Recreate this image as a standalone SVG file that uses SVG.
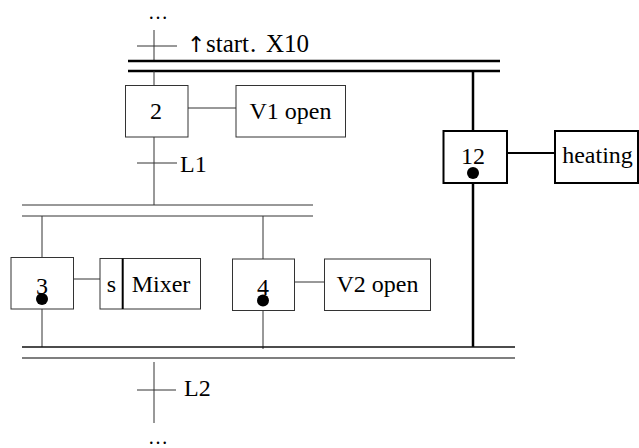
<svg xmlns="http://www.w3.org/2000/svg" width="639" height="448" viewBox="0 0 639 448">
<style>
text{font-family:"Liberation Serif","DejaVu Serif","Times New Roman",serif;font-size:24px;fill:#000}
.c{text-anchor:middle}
.thin{stroke:#333;stroke-width:1;fill:none}
.box{stroke:#333;stroke-width:1;fill:#fff}
.thick{stroke:#000;stroke-width:2.5;fill:none}
.tbox{stroke:#000;stroke-width:2;fill:#fff}
.arw{font-family:"DejaVu Sans","Liberation Sans",sans-serif;font-size:22px;fill:#000}
</style>
<g id="connectors">
<line class="thin" x1="154" y1="30" x2="154" y2="61"/>
<line class="thin" x1="137" y1="46" x2="177" y2="46"/>
<line class="thick" x1="128" y1="61" x2="500" y2="61"/>
<line class="thick" x1="128" y1="71" x2="500" y2="71"/>
<line class="thin" x1="154" y1="71" x2="154" y2="85"/>
<line class="thin" x1="188" y1="108" x2="236" y2="108"/>
<line class="thin" x1="154" y1="137" x2="154" y2="205"/>
<line class="thin" x1="137" y1="163" x2="177" y2="163"/>
<line class="thin" x1="22" y1="205" x2="313" y2="205"/>
<line class="thin" x1="22" y1="216" x2="313" y2="216"/>
<line class="thin" x1="42" y1="216" x2="42" y2="257"/>
<line class="thin" x1="263" y1="216" x2="263" y2="259"/>
<line class="thin" x1="73" y1="279" x2="100" y2="279"/>
<line class="thin" x1="295" y1="282" x2="324" y2="282"/>
<line class="thin" x1="42" y1="309" x2="42" y2="347"/>
<line class="thin" x1="263" y1="311" x2="263" y2="349"/>
<line stroke="#000" stroke-width="2.5" x1="473" y1="71" x2="473" y2="131"/>
<line stroke="#000" stroke-width="2.5" x1="473" y1="183" x2="473" y2="347"/>
<line stroke="#000" stroke-width="2" x1="507" y1="153" x2="555" y2="153"/>
<line stroke="#111" stroke-width="1.3" x1="22" y1="347" x2="515" y2="347"/>
<line stroke="#555" stroke-width="1.3" x1="22" y1="358" x2="515" y2="358"/>
<line class="thin" x1="154" y1="362" x2="154" y2="423"/>
<line class="thin" x1="137" y1="390" x2="176" y2="390"/>
</g>
<g id="t-top">
<text x="158" y="19" class="c" style="font-size:20px">…</text>
<text y="52" style="font-size:25px"><tspan x="187" class="arw">↑</tspan><tspan x="206">start</tspan><tspan x="250">.</tspan><tspan x="266">X10</tspan></text>
</g>
<g id="step2">
<rect class="box" x="125.5" y="85.5" width="62.5" height="51.5"/>
<text x="156" y="119" class="c">2</text>
</g>
<g id="action-v1">
<rect class="box" x="236" y="85.5" width="109.5" height="51.5"/>
<text x="290.5" y="119" class="c">V1 open</text>
</g>
<g id="t-l1"><text x="180" y="172">L1</text></g>
<g id="step3">
<rect class="box" x="11" y="257.5" width="62.5" height="51.5"/>
<text x="42" y="294" class="c">3</text>
<circle cx="42" cy="299" r="6"/>
</g>
<g id="action-mixer">
<rect class="box" x="100" y="258.5" width="100.5" height="50.5"/>
<line stroke="#000" stroke-width="2" x1="122.7" y1="258.5" x2="122.7" y2="309"/>
<text x="111.5" y="292" class="c">s</text>
<text x="161" y="292" class="c">Mixer</text>
</g>
<g id="step4">
<rect class="box" x="232.5" y="259" width="62" height="51.5"/>
<text x="263" y="295" class="c">4</text>
<circle cx="263" cy="300.5" r="6"/>
</g>
<g id="action-v2">
<rect class="box" x="324.5" y="259" width="106" height="51.5"/>
<text x="377.5" y="292" class="c">V2 open</text>
</g>
<g id="step12">
<rect class="tbox" x="443.5" y="131" width="63.5" height="52"/>
<text x="473" y="164" class="c">12</text>
<circle cx="473" cy="173" r="6"/>
</g>
<g id="action-heating">
<rect class="tbox" x="555" y="131" width="83" height="52"/>
<text x="597.5" y="163" class="c">heating</text>
</g>
<g id="t-l2"><text x="184" y="396">L2</text></g>
<g id="t-bottom"><text x="158" y="444" class="c" style="font-size:20px">…</text></g>
</svg>
